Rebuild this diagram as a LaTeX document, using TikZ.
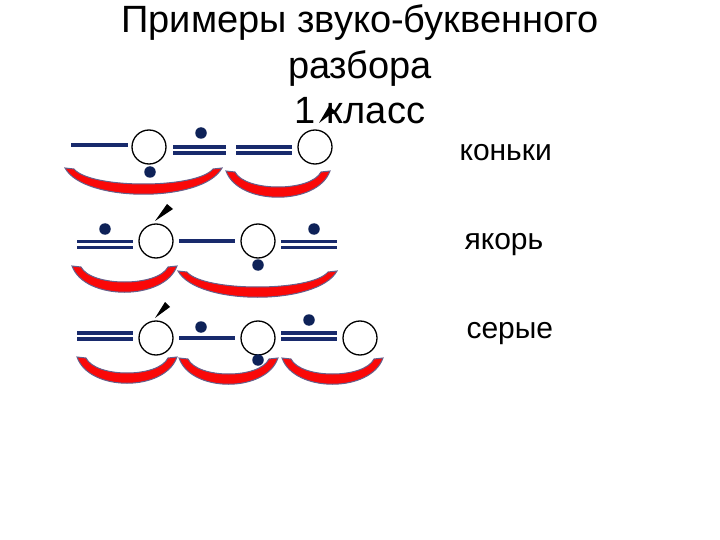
\documentclass[tikz,border=0pt]{standalone}
\usepackage{fontspec}
\setmainfont{Liberation Sans}
\usetikzlibrary{calc}

\definecolor{lineblue}{RGB}{24, 42, 108}
\definecolor{dotblue}{RGB}{14, 34, 88}
\definecolor{arcred}{RGB}{250, 8, 8}
\definecolor{arcrim}{RGB}{100, 96, 140}

\tikzset{
  vowel/.style={circle, draw=black, fill=white, line width=1.3pt, minimum size=34pt, inner sep=0pt},
  softdot/.style={circle, fill=dotblue, minimum size=11.5pt, inner sep=0pt},
  hardline/.style={draw=lineblue, line width=3.8pt},
  softline/.style={draw=lineblue, line width=3.3pt, double=white, double distance=2.5pt},
  syllable/.style={fill=arcred, draw=arcrim, line width=1pt},
  stress/.style={fill=black},
  titletext/.style={font=\fontsize{38}{44}\selectfont, anchor=base},
  wordtext/.style={font=\fontsize{30}{36}\selectfont, anchor=base west}
}

% syllable arc: left x, right x, top y
\newcommand{\slogarc}[3]{%
  \filldraw[syllable] (#1,#3) .. controls ({#1+0.12*(#2-#1)},{#3+35}) and ({#2-0.12*(#2-#1)},{#3+35}) .. (#2,#3)
    -- ({#2-9},{#3+1}) .. controls ({#2-9-0.12*(#2-#1-18)},{#3+21}) and ({#1+9+0.12*(#2-#1-18)},{#3+21}) .. ({#1+9},{#3+1}) -- cycle;}

\begin{document}
\begin{tikzpicture}[x=1pt, y=-1pt]
  \useasboundingbox (0,0) rectangle (720,540);

  % Title
  \node[titletext] (title1) at (360,33) {Примеры звуко-буквенного};
  \node[titletext] (title2) at (360,78.5) {разбора};
  \node[titletext] (title3) at (360,124) {1 класс};
  \fill[stress] (319,123) -- (329,106) -- (335,111) -- cycle;

  % коньки
  \slogarc{65}{222}{168}
  \slogarc{226}{330}{171}
  \draw[hardline] (71,145) -- (128,145);
  \node[vowel] (k1) at (149,147) {};
  \node[softdot] (kd1) at (150,172) {};
  \draw[softline] (173,150) -- (226,150);
  \node[softdot] (kd2) at (201,133) {};
  \draw[softline] (236,150) -- (292,150);
  \node[vowel] (k2) at (315,147) {};
  \node[wordtext] (konki) at (456,161) {коньки};

  % якорь
  \slogarc{72}{177}{266}
  \slogarc{178}{337}{271}
  \draw[softline] (77,244.5) -- (133,244.5);
  \node[softdot] (yd1) at (105,229) {};
  \node[vowel] (y1) at (156,241) {};
  \fill[stress] (155,221) -- (167,204) -- (173,209) -- cycle;
  \draw[hardline] (179,241) -- (235,241);
  \node[vowel] (y2) at (258,241) {};
  \node[softdot] (yd2) at (258,265) {};
  \draw[softline] (281,244.5) -- (337,244.5);
  \node[softdot] (yd3) at (314,229) {};
  \node[wordtext] (yakor) at (461,249) {якорь};

  % серые
  \slogarc{77}{177}{357}
  \slogarc{179}{278}{358}
  \slogarc{282}{383}{358}
  \draw[softline] (77,336) -- (133,336);
  \node[vowel] (s1) at (156,338) {};
  \fill[stress] (155,318) -- (165,302) -- (170,307) -- cycle;
  \draw[hardline] (179,338) -- (235,338);
  \node[softdot] (sd1) at (201,327) {};
  \node[vowel] (s2) at (258,338) {};
  \node[softdot] (sd2) at (258,360) {};
  \draw[softline] (281,336) -- (337,336);
  \node[softdot] (sd3) at (309,320) {};
  \node[vowel] (s3) at (360,338) {};
  \node[wordtext] (serye) at (463,338) {серые};
\end{tikzpicture}
\end{document}
